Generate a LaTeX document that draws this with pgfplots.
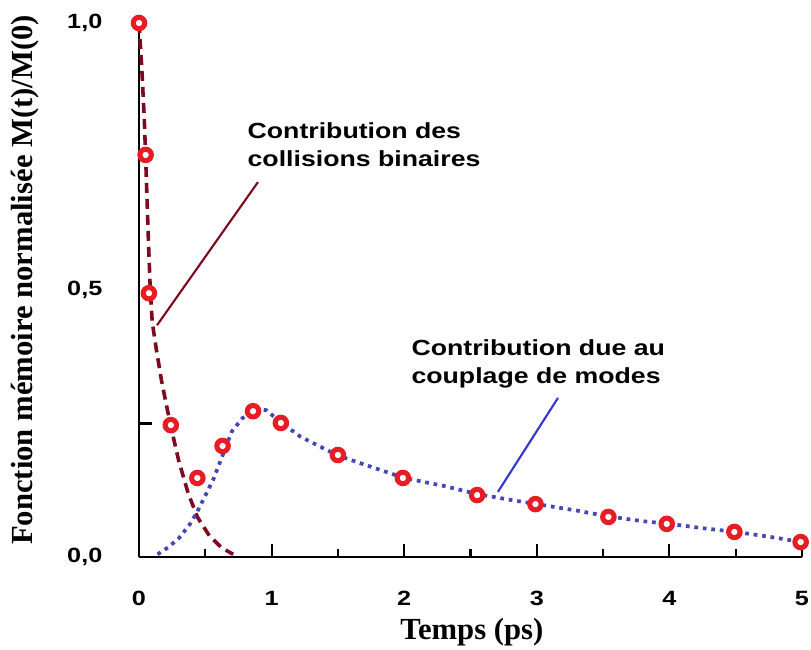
\documentclass[border=0pt]{standalone}
\usepackage{pgfplots}
\pgfplotsset{compat=1.18}
\usepackage{fontspec}
\setmainfont{Liberation Serif}
\newfontfamily\annfont[FakeStretch=1.22]{Liberation Sans}

\definecolor{markred}{RGB}{232,28,36}
\definecolor{darkred}{RGB}{125,10,30}
\definecolor{dotblue}{RGB}{70,70,185}
\definecolor{lineblue}{RGB}{55,55,205}

\begin{document}
\begin{tikzpicture}
\path[use as bounding box] (-104.25pt,-69.75pt) rectangle (504pt,417.75pt);
\begin{axis}[
    at={(0,0)}, anchor=south west,
    scale only axis,
    width=497.25pt, height=400.5pt,
    xmin=0, xmax=5, ymin=0, ymax=1,
    clip=false,
    axis x line=bottom, axis y line=left,
    axis line style={-, line width=2pt, black},
    tick align=inside,
    major tick length=10pt, minor tick length=6pt,
    tick style={line width=1.6pt, black},
    xtick={0,1,2,3,4,5},
    xticklabels={0,1,2,3,4,5},
    minor x tick num=1,
    ytick={0.25}, yticklabels={},
    extra y ticks={0,0.5,1},
    extra y tick labels={{0,0},{0,5},{1,0}},
    extra y tick style={major tick length=0pt},
    ticklabel style={font=\annfont\bfseries\fontsize{15.5}{18}\selectfont},
    xticklabel shift=22pt,
    yticklabel shift=24pt,
    xlabel={Temps (ps)},
    ylabel={Fonction mémoire normalisée M(t)/M(0)},
    label style={font=\bfseries\fontsize{23}{26}\selectfont},
    xlabel style={at={(axis description cs:0.502,-0.14)}, anchor=center},
    ylabel style={at={(axis description cs:-0.172,0.519)}, anchor=center},
]
% contribution des collisions binaires
\addplot[darkred, line width=2.7pt, dash pattern=on 7.5pt off 4.5pt] coordinates {
    (0,1.0) (0.02,0.92) (0.04,0.82) (0.05,0.75) (0.07,0.6) (0.085,0.5)
    (0.10,0.44) (0.13,0.39) (0.17,0.33) (0.235,0.25) (0.30,0.18)
    (0.37,0.12) (0.44,0.075) (0.53,0.04) (0.62,0.018) (0.71,0.005)
};
% contribution due au couplage de modes
\addplot[dotblue, line width=2.8pt, dash pattern=on 2.8pt off 3.6pt] coordinates {
    (0.14,0.005) (0.22,0.018) (0.30,0.035) (0.38,0.06) (0.44,0.085)
    (0.50,0.115) (0.56,0.145) (0.63,0.19) (0.70,0.235) (0.78,0.26)
    (0.88,0.277) (0.96,0.275) (1.07,0.252) (1.22,0.225) (1.50,0.19)
    (1.82,0.163) (2.0,0.148) (2.3,0.133) (2.55,0.118) (2.8,0.107)
    (3.0,0.099) (3.3,0.087) (3.54,0.076) (3.8,0.067) (4.0,0.062)
    (4.25,0.054) (4.5,0.047) (4.75,0.038) (5.0,0.028)
};
% simulation
\addplot[only marks, mark=*, mark size=4.3pt,
    mark options={draw=markred, fill=white, line width=3.8pt}] coordinates {
    (0,1.0) (0.05,0.753) (0.075,0.494) (0.24,0.247) (0.44,0.148)
    (0.63,0.208) (0.86,0.273) (1.07,0.251) (1.50,0.191) (1.99,0.148)
    (2.55,0.116) (2.99,0.099) (3.54,0.075) (3.98,0.062) (4.49,0.047)
    (4.99,0.028)
};
\draw[darkred, line width=1.6pt] (axis cs:0.136,0.434) -- (axis cs:0.897,0.702);
\draw[lineblue, line width=1.6pt] (axis cs:2.707,0.122) -- (axis cs:3.16,0.298);
\node[anchor=west, align=left, font=\annfont\bfseries\fontsize{16.4}{21}\selectfont]
    at (axis cs:0.784,0.773) {Contribution des\\collisions binaires};
\node[anchor=west, align=left, font=\annfont\bfseries\fontsize{16.4}{21}\selectfont]
    at (axis cs:2.02,0.362) {Contribution due au\\couplage de modes};
\end{axis}
\end{tikzpicture}
\end{document}
